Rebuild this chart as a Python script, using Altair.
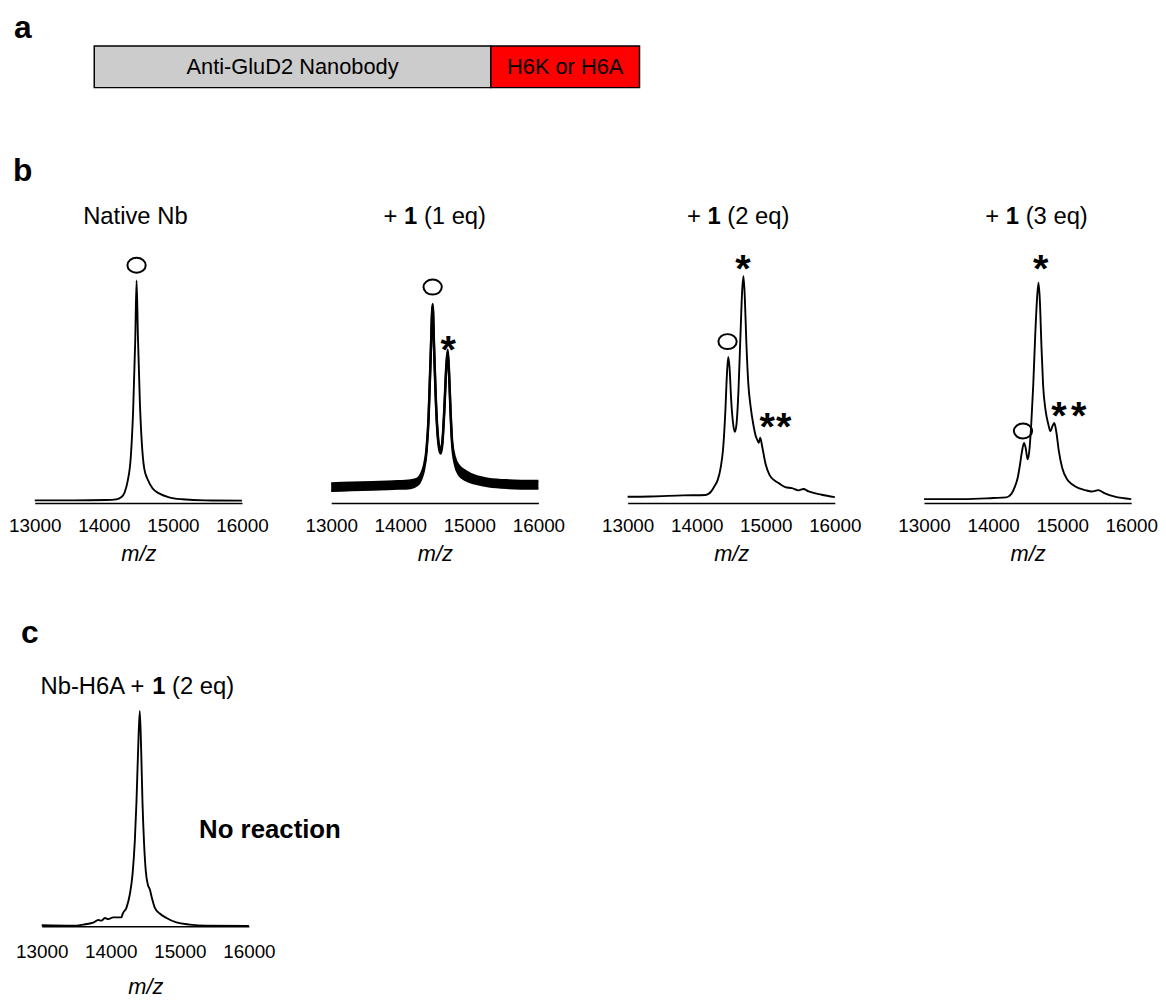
import altair as alt
import pandas as pd

FONT = "Liberation Sans"
TICKS = [13000, 14000, 15000, 16000]
PX_PER_UNIT = 2.2
PLOT_W = 209

# ---------------- panel a : construct ----------------
segment_names = ["Anti-GluD2 Nanobody", "H6K or H6A"]
segment_lengths = [100, 37.5]
segment_colors = ["#cccccc", "#ff0000"]

# ---------------- panel b : spectra (m/z, relative intensity) ----------------
native_mz = [13000, 13550, 14030, 14180, 14250, 14300, 14345, 14390, 14425, 14455, 14474,
             14493, 14522, 14551, 14584, 14632, 14704, 14800, 14944, 15136, 15470, 16000]
native_int = [1.2, 1.2, 1.4, 1.7, 2.6, 4.8, 10, 21, 43, 75, 102,
              77, 46, 27, 16, 11, 6.8, 4.4, 2.6, 1.7, 1.2, 1.1]

eq1_mz = [13000, 13300, 13600, 13900, 14150, 14250, 14300, 14340, 14380, 14410, 14440, 14469,
          14490, 14512, 14536, 14560, 14584, 14608, 14637, 14666, 14687, 14706, 14728, 14752,
          14790, 14850, 14950, 15090, 15280, 15570, 16000]
eq1_low = [5.6, 5.9, 6.2, 6.5, 6.9, 8.3, 10.7, 14.7, 23.2, 38.2, 66.2, 90,
           70.2, 49.2, 33.2, 25.2, 22.7, 26.2, 41.2, 61.2, 69, 59.2, 41.2, 26.3,
           17.9, 12.9, 10.4, 8.9, 7.6, 6.9, 6.6]
eq1_high = [9.0, 9.3, 9.6, 9.9, 10.4, 11.2, 13.3, 16.8, 24.8, 39.8, 67.8, 91.3,
            71.8, 50.8, 34.8, 26.8, 24.3, 27.8, 42.8, 62.8, 70.3, 60.8, 42.8, 28.2,
            21.1, 17.1, 14.6, 12.4, 11.1, 10.4, 10.1]

eq2_mz = [13000, 13325, 13800, 14130, 14210, 14255, 14305, 14350, 14385, 14415, 14438, 14457,
          14476, 14500, 14529, 14553, 14576, 14605, 14634, 14658, 14677, 14696, 14720, 14748,
          14782, 14820, 14853, 14882, 14900, 14920, 14949, 14997, 15054, 15116, 15188, 15283,
          15380, 15475, 15545, 15620, 15810, 16000]
eq2_int = [2.9, 3.0, 3.5, 3.7, 5.3, 7.6, 10.6, 16.7, 25.8, 42, 59, 67,
           62, 47, 36, 32.6, 36, 51.5, 77, 97, 104, 95, 73, 54.5,
           44, 36, 31, 28.6, 27.6, 30, 25.8, 18, 12.9, 10.6, 9.1, 7.3,
           6.8, 5.8, 6.4, 5.3, 3.8, 2.7]

eq3_mz = [13000, 13570, 14000, 14190, 14262, 14310, 14357, 14390, 14419, 14448, 14471, 14500,
          14524, 14552, 14581, 14610, 14633, 14657, 14676, 14700, 14724, 14762, 14800, 14829,
          14857, 14886, 14914, 14952, 15000, 15071, 15143, 15238, 15333, 15429, 15524, 15619,
          15762, 16000]
eq3_int = [1.8, 1.8, 2.3, 2.6, 4.1, 7.1, 11.7, 17.7, 23.8, 27.6, 25.3, 20,
           23.8, 36, 54, 77, 92, 101, 93.5, 72, 54, 42, 36, 32.9,
           35, 36.7, 32.9, 23.8, 16.2, 10.9, 8.6, 6.8, 5.9, 5.3, 5.9, 4.4,
           2.9, 1.8]

# ---------------- panel c ----------------
h6a_mz = [13000, 13460, 13600, 13745, 13820, 13865, 13915, 13965, 14035, 14155, 14170, 14228,
          14276, 14315, 14348, 14372, 14396, 14420, 14440, 14459, 14483, 14507, 14536, 14565,
          14594, 14637, 14709, 14806, 14950, 15143, 15383, 16000]
h6a_int = [0.5, 0.3, 0.8, 1.7, 2.9, 2.6, 3.8, 3.3, 4.1, 4.1, 5.6, 8.6,
           14.7, 23.8, 39, 57, 81, 98.8, 81, 57, 37.4, 25.3, 19.2, 17,
           13.2, 8.6, 5.9, 3.8, 1.8, 0.8, 0.3, 0.2]

# ---------------- peak annotations ----------------
circle_panel = ["native", "eq1", "eq2", "eq3"]
circle_mz = [14474, 14469, 14447, 14433]
circle_int = [109, 99, 74, 33]

star_panel = ["eq1", "eq2", "eq2", "eq2", "eq3", "eq3", "eq3"]
star_mz = [14694, 14672, 15021, 15260, 14690, 14952, 15238]
star_int = [72, 109, 36.4, 36.4, 109, 41.7, 41.7]

ELLIPSE = "M-1,0A1,0.82,0,1,1,1,0A1,0.82,0,1,1,-1,0Z"


def x_axis(label_pad, title_pad):
    return alt.Axis(values=TICKS, format="d", ticks=False, tickSize=0, grid=False,
                    domainColor="black", domainWidth=1.5,
                    labelFont=FONT, labelFontSize=19, labelColor="black",
                    labelPadding=label_pad, labelOverlap=False, labelFlush=False,
                    title="m/z", titleFont=FONT, titleFontSize=22, titleFontStyle="italic",
                    titleFontWeight="normal", titleColor="black", titlePadding=title_pad)


def x_scale(offset):
    return alt.Scale(domain=[13000, 16000], range=[offset, offset + PLOT_W], nice=False, zero=False)


def y_scale(h):
    return alt.Scale(domain=[0, h / PX_PER_UNIT], nice=False, zero=False)


def x_enc(offset, axis, field="mz"):
    return alt.X(f"{field}:Q", scale=x_scale(offset), axis=axis)


def y_enc(h, field="intensity"):
    return alt.Y(f"{field}:Q", scale=y_scale(h), axis=None)


def line_layer(mz, inten, h, offset, axis):
    df = pd.DataFrame({"mz": mz, "intensity": inten})
    return alt.Chart(df).mark_line(color="black", strokeWidth=1.9, interpolate="monotone").encode(
        x=x_enc(offset, axis), y=y_enc(h))


def circle_layer(key, h, offset, axis):
    df = pd.DataFrame({"panel": circle_panel, "mz": circle_mz, "intensity": circle_int})
    df = df[df["panel"] == key]
    return alt.Chart(df).mark_point(shape=ELLIPSE, size=340, filled=False, color="black",
                                    strokeWidth=2, opacity=1).encode(
        x=x_enc(offset, axis), y=y_enc(h))


def star_layer(key, h, offset, axis):
    df = pd.DataFrame({"panel": star_panel, "mz": star_mz, "intensity": star_int})
    df = df[df["panel"] == key]
    return alt.Chart(df).mark_text(text="*", font=FONT, fontSize=40, fontWeight="bold",
                                   color="black", align="center", baseline="alphabetic",
                                   dy=17).encode(x=x_enc(offset, axis), y=y_enc(h))


def text_part(txt, bold, dx, y_val, size=24, align="left", x_val=14500):
    return alt.Chart(pd.DataFrame({"t": [txt]})).mark_text(
        font=FONT, fontSize=size, fontWeight="bold" if bold else "normal", color="black",
        align=align, baseline="middle", dx=dx).encode(
        text="t:N", x=alt.datum(x_val), y=alt.datum(y_val))


def letter(ch, xpx, ypx):
    return alt.Chart(pd.DataFrame({"t": [ch]})).mark_text(
        font=FONT, fontSize=32, fontWeight="bold", color="black", align="left",
        baseline="alphabetic").encode(text="t:N", x=alt.value(xpx), y=alt.value(ypx))


def eq_title(n, shift, y_val):
    return [text_part("+", False, -51.7 + shift, y_val),
            text_part("1", True, -31 + shift, y_val),
            text_part(f"({n} eq)", False, -11 + shift, y_val)]


# ---------------- row a ----------------
seg_df = pd.DataFrame({"name": segment_names, "length": segment_lengths,
                       "color": segment_colors, "row": "construct"})
seg_df["end"] = seg_df["length"].cumsum()
seg_df["start"] = seg_df["end"] - seg_df["length"]
seg_df["mid"] = (seg_df["start"] + seg_df["end"]) / 2
xa = alt.Scale(domain=[0, float(seg_df["end"].iloc[-1])], range=[60, 610], nice=False, zero=False)
ya = alt.Scale(paddingInner=0, paddingOuter=0)
bars = alt.Chart(seg_df).mark_rect(stroke="black", strokeWidth=1.5).encode(
    x=alt.X("start:Q", scale=xa, axis=None), x2="end:Q",
    y=alt.Y("row:N", scale=ya, axis=None),
    fill=alt.Fill("color:N", scale=None))
seg_labels = alt.Chart(seg_df).mark_text(font=FONT, fontSize=22, color="black",
                                         baseline="middle", align="center").encode(
    x=alt.X("mid:Q", scale=xa, axis=None), y=alt.Y("row:N", scale=ya, axis=None), text="name:N")
row_a = alt.layer(bars, seg_labels, letter("a", -21, -8)).properties(width=620, height=42)

# ---------------- row b ----------------
HB = 300
TB = 131
axb = x_axis(14, 8)
p1 = alt.layer(line_layer(native_mz, native_int, HB, 0, axb),
               circle_layer("native", HB, 0, axb),
               text_part("Native Nb", False, -3, TB, align="center"),
               letter("b", -22, -25)).properties(width=PLOT_W, height=HB)

eq1_df = pd.DataFrame({"mz": eq1_mz, "lo": eq1_low, "hi": eq1_high})
band = alt.Chart(eq1_df).mark_area(color="black", opacity=1, interpolate="monotone").encode(
    x=x_enc(0, axb), y=alt.Y("lo:Q", scale=y_scale(HB), axis=None), y2="hi:Q")
lo_line = alt.Chart(eq1_df).mark_line(color="black", strokeWidth=2.4, interpolate="monotone").encode(
    x=x_enc(0, axb), y=alt.Y("lo:Q", scale=y_scale(HB), axis=None))
hi_line = alt.Chart(eq1_df).mark_line(color="black", strokeWidth=2.4, interpolate="monotone").encode(
    x=x_enc(0, axb), y=alt.Y("hi:Q", scale=y_scale(HB), axis=None))
p2 = alt.layer(band, lo_line, hi_line, circle_layer("eq1", HB, 0, axb), star_layer("eq1", HB, 0, axb),
               *eq_title(1, 0, TB)).properties(width=PLOT_W, height=HB)

p3 = alt.layer(line_layer(eq2_mz, eq2_int, HB, 0, axb),
               circle_layer("eq2", HB, 0, axb), star_layer("eq2", HB, 0, axb),
               *eq_title(2, 7, TB)).properties(width=PLOT_W, height=HB)

p4 = alt.layer(line_layer(eq3_mz, eq3_int, HB, 0, axb),
               circle_layer("eq3", HB, 0, axb), star_layer("eq3", HB, 0, axb),
               *eq_title(3, 9, TB)).properties(width=PLOT_W, height=HB)

row_b = alt.hconcat(p1, p2, p3, p4, spacing=90, bounds="flush")

# invisible spacer that stands in for row b's height in the flush layout
spacer = alt.Chart(pd.DataFrame({"t": [""]})).mark_text().encode(text="t:N").properties(
    width=10, height=181)

# ---------------- row c ----------------
HC = 308
TC = 109.5
axc = x_axis(16, 16)
row_c = alt.layer(
    line_layer(h6a_mz, h6a_int, HC, 7, axc),
    text_part("Nb-H6A +", False, -105.7, TC),
    text_part("1", True, 7, TC),
    text_part("(2 eq)", False, 27, TC),
    text_part("No reaction", True, 0, 44, size=26, x_val=15279),
    letter("c", -14, 22),
).properties(width=PLOT_W + 7, height=HC)

chart = alt.vconcat(row_a, row_b, spacer, row_c, spacing=119, bounds="flush").properties(
    padding=0).configure_view(strokeWidth=0)

chart.save("out.html", embed_options={"renderer": "svg", "actions": False})
